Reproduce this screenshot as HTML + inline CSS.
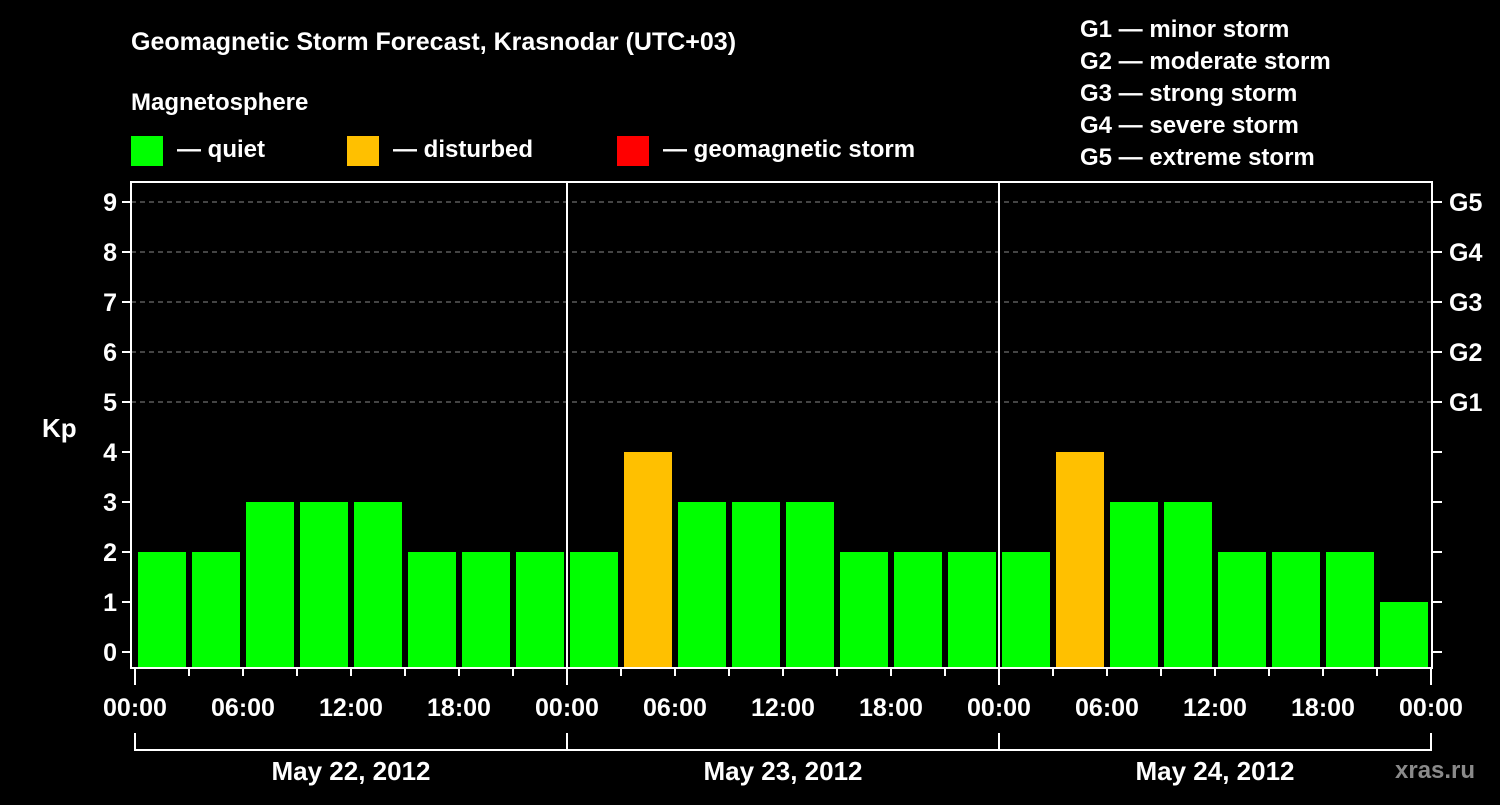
<!DOCTYPE html>
<html><head><meta charset="utf-8"><style>
body{margin:0;background:#000;width:1500px;height:800px;overflow:hidden}
svg text{font-family:"Liberation Sans",sans-serif;font-weight:bold;fill:#fff}
</style></head><body>
<svg width="1500" height="800" viewBox="0 0 1500 800" id="chart">
<text x="131" y="50" font-size="25">Geomagnetic Storm Forecast, Krasnodar (UTC+03)</text>
<text x="131" y="110" font-size="24">Magnetosphere</text>
<g><rect x="131" y="136" width="32" height="30" fill="#00ff00"/><text x="177" y="157" font-size="24">— quiet</text></g>
<g><rect x="347" y="136" width="32" height="30" fill="#ffc000"/><text x="393" y="157" font-size="24">— disturbed</text></g>
<g><rect x="617" y="136" width="32" height="30" fill="#ff0000"/><text x="663" y="157" font-size="24">— geomagnetic storm</text></g>
<g font-size="24">
<text x="1080" y="37" font-size="24">G1 — minor storm</text>
<text x="1080" y="69" font-size="24">G2 — moderate storm</text>
<text x="1080" y="101" font-size="24">G3 — strong storm</text>
<text x="1080" y="133" font-size="24">G4 — severe storm</text>
<text x="1080" y="165" font-size="24">G5 — extreme storm</text>
</g>
<text x="42" y="437" font-size="26">Kp</text>
<text x="1395" y="778" font-size="24" fill="#888" style="fill:#8a8a8a">xras.ru</text>
<g id="marks"></g>
</svg>
<script>
const days = ["May 22, 2012","May 23, 2012","May 24, 2012"];
const kpDay1 = [2,2,3,3,3,2,2,2];
const kpDay2 = [2,4,3,3,3,2,2,2];
const kpDay3 = [2,4,3,3,2,2,2,1];
const yTicks = [0,1,2,3,4,5,6,7,8,9];
const gLabels = ["G1","G2","G3","G4","G5"];
const xTickLabels = ["00:00","06:00","12:00","18:00"];

const NS="http://www.w3.org/2000/svg";
const g=document.getElementById('marks');
const L=131,R=1432,T=182,B=668,X0=135,DAY=432;
const y=v=>652-50*v;
const x=h=>X0+DAY*h/24;
function mk(t,a,p){const e=document.createElementNS(NS,t);for(const k in a)e.setAttribute(k,a[k]);(p||g).appendChild(e);return e;}
// grid
yTicks.forEach(v=>{
  if(v>=5){const l=mk('line',{x1:L,x2:R,y1:y(v),y2:y(v),stroke:'#888','stroke-dasharray':'5,4','stroke-width':1});
  
  }
  const t=mk('line',{x1:L-9,x2:L,y1:y(v),y2:y(v),stroke:'#fff','stroke-width':2});
  
  
  const t2=mk('line',{x1:R,x2:R+10,y1:y(v),y2:y(v),stroke:'#fff','stroke-width':2});
  
  
  const tx=mk('text',{x:L-14,y:y(v)+9,'text-anchor':'end','font-size':25});
  tx.textContent=v;
  
  
});
gLabels.forEach((s,i)=>{
  const tx=mk('text',{x:R+17,y:y(5+i)+9,'font-size':25});
  tx.textContent=s;
  
  
});
// bars
const all=[kpDay1,kpDay2,kpDay3];
all.forEach((arr,d)=>arr.forEach((v,i)=>{
  const h=d*24+i*3;
  const b=mk('rect',{x:x(h)+3,y:y(v),width:48,height:B-y(v),fill:v>=5?'#ff0000':(v>=4?'#ffc000':'#00ff00')});
  
  
}));
// frame
const fr=mk('rect',{x:L,y:T,width:R-L,height:B-T,fill:'none',stroke:'#fff','stroke-width':2});


for(let d=1;d<days.length;d++){
  const l=mk('line',{x1:x(d*24),x2:x(d*24),y1:T,y2:B,stroke:'#fff','stroke-width':2});
  
  
}
// x ticks
for(let h=0;h<=72;h+=3){
  const major=h%6===0;
  const l=mk('line',{x1:x(h),x2:x(h),y1:B,y2:B+(h%24===0?17:8),stroke:'#fff','stroke-width':2});
  
  
  if(major){
    const s=h===72?xTickLabels[0]:xTickLabels[(h%24)/6];
    const t=mk('text',{x:x(h),y:716,'text-anchor':'middle','font-size':25});
    t.textContent=s;
    
    
  }
}
// day brackets
days.forEach((s,d)=>{
  const p=mk('path',{d:`M${x(d*24)},733 V750 H${x(d*24+24)} V733`,fill:'none',stroke:'#fff','stroke-width':2});
  
  
  const t=mk('text',{x:x(d*24+12),y:780,'text-anchor':'middle','font-size':26});
  t.textContent=s;
  
  
});
</script>
</body></html>
